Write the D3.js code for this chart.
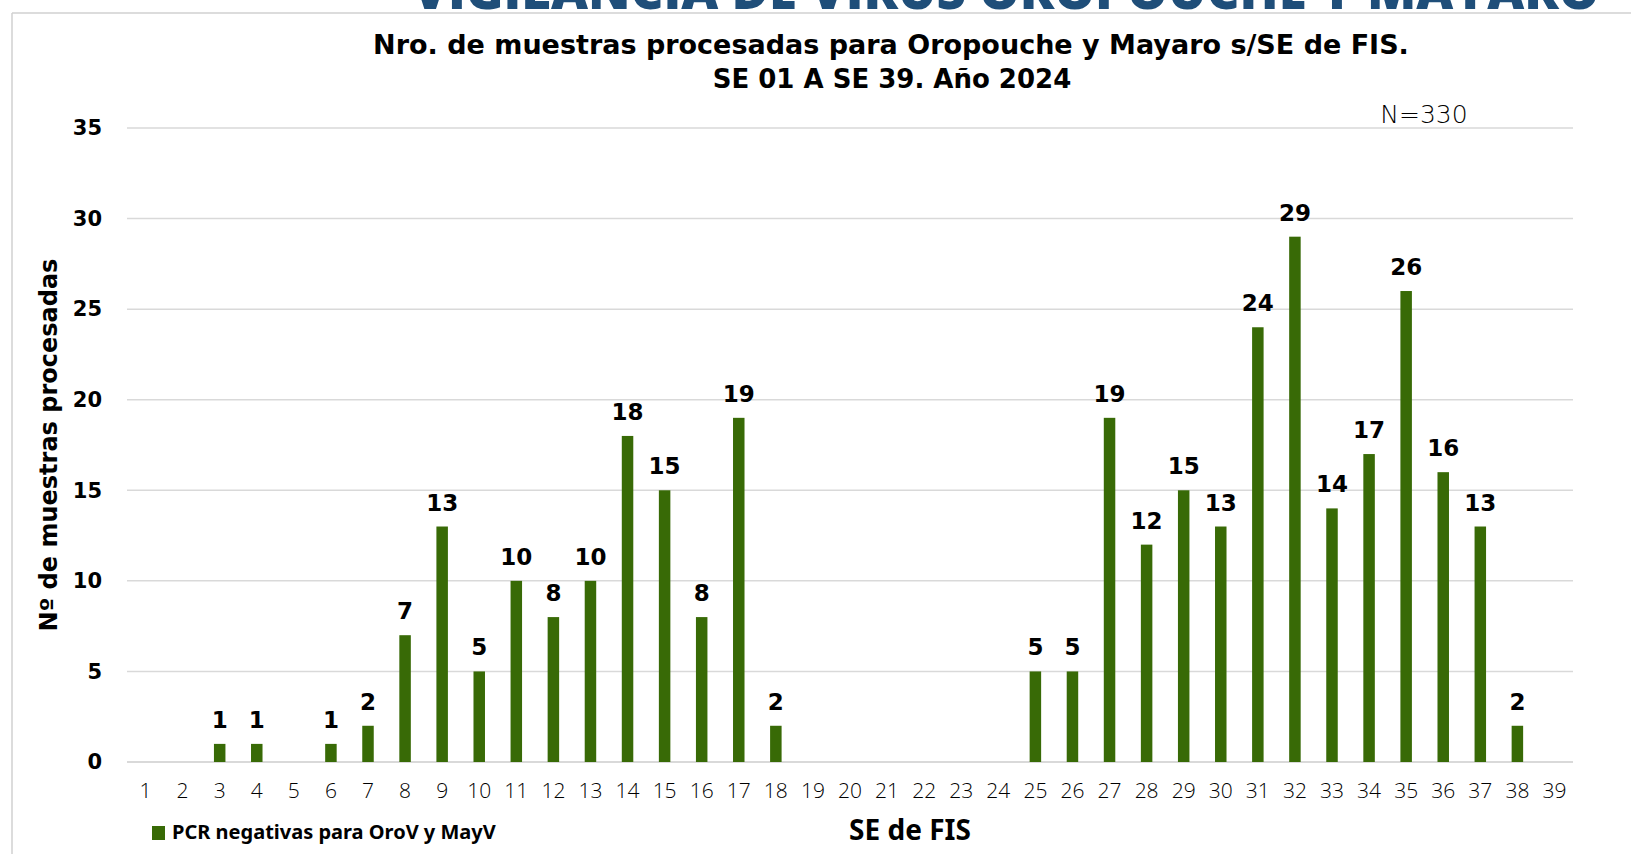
<!DOCTYPE html>
<html>
<head>
<meta charset="utf-8">
<script src="https://cdn.jsdelivr.net/npm/d3@7"></script>
<style>
  body { margin: 0; background: #ffffff; }
  svg { display: block; }
</style>
</head>
<body>
<div id="chart"></div>
<script>
// Semanas epidemiologicas (SE de FIS)
const weeks = d3.range(1, 40);
// Muestras con PCR negativa para OroV y MayV por semana
const samples = [0, 0, 1, 1, 0, 1, 2, 7, 13, 5, 10, 8, 10, 18, 15, 8, 19, 2, 0, 0,
                 0, 0, 0, 0, 5, 5, 19, 12, 15, 13, 24, 29, 14, 17, 26, 16, 13, 2, 0];
const yTicks = [0, 5, 10, 15, 20, 25, 30, 35];

const seriesName = "PCR negativas para OroV y MayV";
const barColor = "#386a06";

const data = weeks.map((w, i) => ({ week: w, value: samples[i] }));

const W = 1631, H = 854;
const margin = { top: 128, right: 58, bottom: 92, left: 127 };
const width = W - margin.left - margin.right;
const height = H - margin.top - margin.bottom;

const boldFont = "'DejaVu Sans', sans-serif";

const svg = d3.select("#chart").append("svg")
    .attr("width", W)
    .attr("height", H);

// slide frame lines
svg.append("line")
    .attr("x1", 12).attr("x2", 12).attr("y1", 13).attr("y2", H)
    .attr("stroke", "#d0d0d0").attr("stroke-width", 1.5);
svg.append("line")
    .attr("x1", 12).attr("x2", W).attr("y1", 13).attr("y2", 13)
    .attr("stroke", "#d0d0d0").attr("stroke-width", 1.5);

// heading of the slide, cut off at the top edge as in the original
svg.append("text")
    .attr("x", 1006).attr("y", 9)
    .attr("text-anchor", "middle")
    .style("font-family", "'Open Sans', sans-serif")
    .style("font-weight", 800)
    .style("font-size", "51px")
    .style("fill", "#1f4e79")
    .text("VIGILANCIA DE VIRUS OROPOUCHE Y MAYARO");

// titles
svg.append("text")
    .attr("x", 891).attr("y", 54)
    .attr("text-anchor", "middle")
    .style("font-family", boldFont)
    .style("font-weight", 700)
    .style("font-size", "27px")
    .style("fill", "#000")
    .text("Nro. de muestras procesadas para Oropouche y Mayaro s/SE de FIS.");
svg.append("text")
    .attr("x", 892).attr("y", 88)
    .attr("text-anchor", "middle")
    .style("font-family", boldFont)
    .style("font-weight", 700)
    .style("font-size", "26px")
    .style("fill", "#000")
    .text("SE 01 A SE 39. Año 2024");

svg.append("text")
    .attr("x", 1424).attr("y", 123)
    .attr("text-anchor", "middle")
    .style("font-family", "'DejaVu Sans', sans-serif")
    .style("font-weight", 200)
    .style("font-size", "25px")
    .style("fill", "#000")
    .text("N=330");

const g = svg.append("g")
    .attr("transform", `translate(${margin.left},${margin.top})`);

const x = d3.scaleBand()
    .domain(weeks)
    .range([0, width])
    .paddingInner(0.69)
    .paddingOuter(0.345);

const y = d3.scaleLinear()
    .domain([0, 35])
    .range([height, 0]);

// gridlines
g.append("g")
    .selectAll("line")
    .data(yTicks)
    .join("line")
    .attr("x1", 0).attr("x2", width)
    .attr("y1", d => y(d)).attr("y2", d => y(d))
    .attr("stroke", "#d9d9d9")
    .attr("stroke-width", d => d === 0 ? 2 : 1.5);

// y axis
const yAxis = g.append("g")
    .call(d3.axisLeft(y).tickValues(yTicks).tickSize(0).tickPadding(25));
yAxis.select(".domain").remove();
yAxis.selectAll("text")
    .style("font-family", boldFont)
    .style("font-weight", 700)
    .style("font-size", "21px")
    .style("fill", "#000");

// x axis
const xAxis = g.append("g")
    .attr("transform", `translate(0,${height})`)
    .call(d3.axisBottom(x).tickSize(0).tickPadding(21));
xAxis.select(".domain").remove();
xAxis.selectAll("text")
    .style("font-family", "'Open Sans', sans-serif")
    .style("font-weight", 300)
    .style("font-size", "21px")
    .style("fill", "#000");

// bars
g.selectAll(".bar")
    .data(data)
    .join("rect")
    .attr("class", "bar")
    .attr("x", d => x(d.week))
    .attr("width", x.bandwidth())
    .attr("y", d => y(d.value))
    .attr("height", d => height - y(d.value))
    .attr("fill", barColor);

// value labels
g.selectAll(".label")
    .data(data.filter(d => d.value > 0))
    .join("text")
    .attr("class", "label")
    .attr("x", d => x(d.week) + x.bandwidth() / 2)
    .attr("y", d => y(d.value) - 16)
    .attr("text-anchor", "middle")
    .style("font-family", boldFont)
    .style("font-weight", 700)
    .style("font-size", "23px")
    .style("fill", "#000")
    .text(d => d.value);

// axis titles
svg.append("text")
    .attr("transform", `translate(57,445) rotate(-90)`)
    .attr("text-anchor", "middle")
    .style("font-family", boldFont)
    .style("font-weight", 700)
    .style("font-size", "24px")
    .style("fill", "#000")
    .text("Nº de muestras procesadas");

svg.append("text")
    .attr("x", 910).attr("y", 840)
    .attr("text-anchor", "middle")
    .style("font-family", "'Noto Sans', sans-serif")
    .style("font-weight", 700)
    .style("font-size", "28px")
    .style("fill", "#000")
    .text("SE de FIS");

// legend
const legend = svg.append("g").attr("transform", "translate(152,826)");
legend.append("rect")
    .attr("width", 13).attr("height", 14)
    .attr("fill", barColor);
legend.append("text")
    .attr("x", 20).attr("y", 13)
    .style("font-family", "'Noto Sans', sans-serif")
    .style("font-weight", 700)
    .style("font-size", "20px")
    .style("fill", "#000")
    .text(seriesName);
</script>
</body>
</html>
